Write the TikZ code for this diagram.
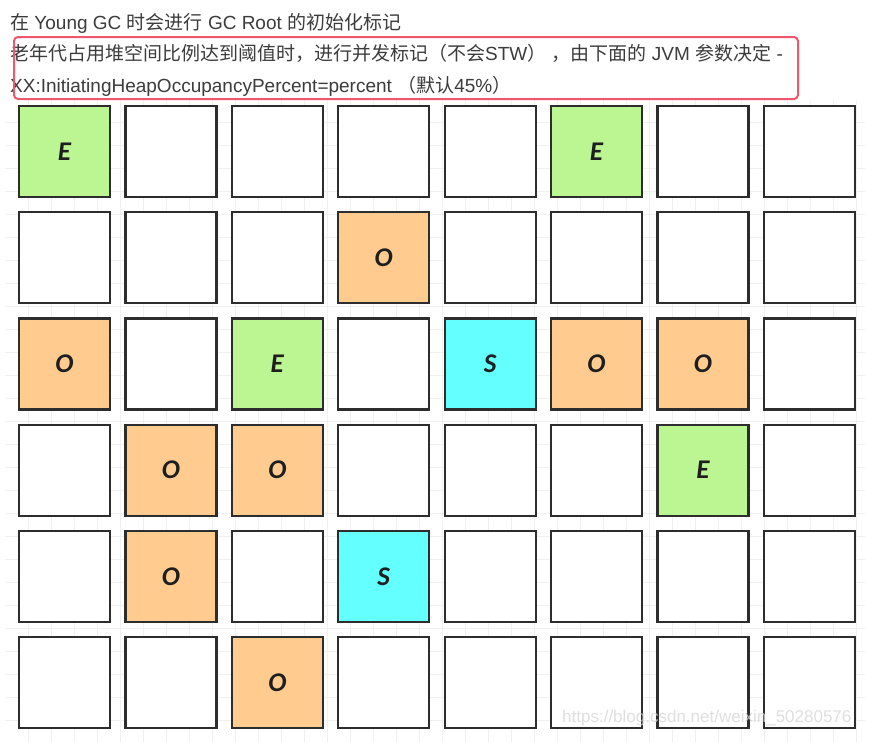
\documentclass[tikz,border=0pt]{standalone}
\usepackage{fontspec}
\setmainfont{Liberation Sans}
\newfontfamily\cjk{Noto Sans CJK SC}
\newfontfamily\cellfont{Carlito}

\definecolor{edengreen}{RGB}{188,246,147}
\definecolor{oldorange}{RGB}{255,203,143}
\definecolor{survcyan}{RGB}{100,255,255}
\definecolor{cellline}{RGB}{45,45,45}
\definecolor{letter}{RGB}{30,30,30}
\definecolor{notegray}{RGB}{60,60,60}
\definecolor{boxred}{RGB}{240,86,108}
\definecolor{gridgray}{RGB}{240,240,240}
\definecolor{markgray}{RGB}{215,215,215}

\begin{document}
\begin{tikzpicture}[x=1pt, y=-1pt,
    cell/.style={draw=cellline, line width=2.2pt, fill=white,
        minimum width=91pt, minimum height=91pt, inner sep=0pt, text=letter,
        font=\cellfont\bfseries\itshape\fontsize{27}{27}\selectfont},
    cellw/.style={cell},
    cellE/.style={cell, fill=edengreen},
    cellO/.style={cell, fill=oldorange},
    cellS/.style={cell, fill=survcyan},
    note/.style={anchor=base west, inner sep=0pt, text=notegray,
        font=\fontsize{19}{19}\selectfont},
    gridline/.style={gridgray, line width=0.8pt}]
    \fill[white] (0,0) rectangle (879,742);
    \useasboundingbox (0,0) rectangle (879,742);

    % background grid
    \foreach \x in {28,51,...,865}
        \draw[gridline] (\x,100) -- (\x,742);
    \foreach \y in {122,145,...,742}
        \draw[gridline] (5,\y) -- (865,\y);

    % notes
    \node[note] (line1) at (10,29) {{\cjk 在} Young GC {\cjk 时会进行} GC Root {\cjk 的初始化标记}};
    \node[note] (line2) at (10,60.5) {{\cjk 老年代占用堆空间比例达到阈值时，进行并发标记（不会}STW{\cjk ）}
        {\cjk ，由下面的} JVM {\cjk 参数决定} -};
    \node[note] (line3) at (10,92) {XX:InitiatingHeapOccupancyPercent=percent {\cjk （默认}45\%{\cjk ）}};
    \draw[boxred, line width=2pt, rounded corners=4pt] (14,37) rectangle (798,99);

    % regions
    \foreach \cells [count=\r from 0] in {
        {E,w,w,w,w,E,w,w},
        {w,w,w,O,w,w,w,w},
        {O,w,E,w,S,O,O,w},
        {w,O,O,w,w,w,E,w},
        {w,O,w,S,w,w,w,w},
        {w,w,O,w,w,w,w,w}}
        \foreach \t [count=\c from 0] in \cells
            \node[cell\t] (c-\r-\c) at ({64.5+106.4*\c}, {151.5+106.2*\r}) {\if w\t\else\t\fi};

    % watermark
    \node[anchor=base west, inner sep=0pt, text=markgray, text opacity=0.8,
        font=\fontsize{17}{17}\selectfont] (mark) at (562,722) {https://blog.csdn.net/weixin\_50280576};
\end{tikzpicture}
\end{document}
